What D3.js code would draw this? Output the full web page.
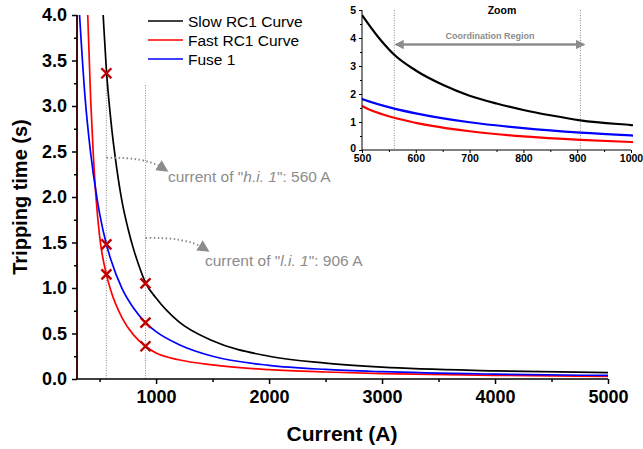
<!DOCTYPE html>
<html>
<head>
<meta charset="utf-8">
<script src="https://cdn.jsdelivr.net/npm/d3@7"></script>
<style>
  body { margin: 0; background: #fff; }
  svg { font-family: Arial, "Liberation Sans", sans-serif; }
  .axis path, .axis line { stroke: #000; stroke-width: 1.5; }
  .axis text { font-weight: bold; fill: #000; }
</style>
</head>
<body>
<script>
(function(){

    //curve data (current in A, tripping time in s)
    var slowCurrent = [500, 535, 560, 600, 650, 700, 750, 800, 850, 906, 1000, 1200, 1500, 2000, 2500, 3000, 4000, 5000];
    var slowTime    = [4.82, 3.92, 3.4, 2.84, 2.33, 1.94, 1.66, 1.43, 1.24, 1.06, 0.89, 0.63, 0.42, 0.25, 0.175, 0.13, 0.09, 0.07];

    var fastCurrent = [395, 421, 445, 468, 500, 560, 600, 700, 800, 906, 1000, 1200, 1500, 2000, 2500, 3000, 4000, 5000];
    var fastTime    = [4.0, 3.07, 2.45, 2.0, 1.57, 1.15, 0.97, 0.67, 0.485, 0.36, 0.285, 0.212, 0.155, 0.103, 0.077, 0.06, 0.04, 0.028];

    var fuseCurrent = [320, 371, 420, 479, 500, 560, 600, 700, 800, 906, 1000, 1200, 1500, 2000, 2500, 3000, 4000, 5000];
    var fuseTime    = [4.05, 3.1, 2.49, 1.97, 1.82, 1.48, 1.31, 0.99, 0.78, 0.62, 0.52, 0.38, 0.25, 0.15, 0.105, 0.08, 0.053, 0.039];

    var seriesNames = ["Slow RC1 Curve", "Fast RC1 Curve", "Fuse 1"];
    var seriesColors = ["#000000", "#ff0000", "#0000ff"];

    //fast curve vertical asymptote at the left edge
    var fastAsymptote = 300;

    //coordination points
    var markCurrent = [560, 560, 560, 906, 906, 906];
    var markTime    = [3.36, 1.48, 1.15, 1.05, 0.62, 0.36];

    //reference currents and the height of their dotted lines
    var refCurrent = [560, 906];
    var refTop     = [3.34, 3.23];
    var refLabels  = [["h.i. 1", "560 A"], ["l.i. 1", "906 A"]];

    var xTicks = [1000, 2000, 3000, 4000, 5000];
    var xMinor = [500, 1500, 2500, 3500, 4500];
    var yTicks = [0, 0.5, 1, 1.5, 2, 2.5, 3, 3.5, 4];
    var yMinor = [0.25, 0.75, 1.25, 1.75, 2.25, 2.75, 3.25, 3.75];

    var zxTicks = [500, 600, 700, 800, 900, 1000];
    var zxMinor = [550, 650, 750, 850, 950];
    var zyTicks = [0, 1, 2, 3, 4, 5];
    var zyMinor = [0.5, 1.5, 2.5, 3.5, 4.5];

    var width = 643, height = 449;

    var svg = d3.select("body").append("svg")
        .attr("width", width)
        .attr("height", height);

    var defs = svg.append("defs");
    defs.append("marker")
        .attr("id", "grayHead")
        .attr("viewBox", "0 0 10 10")
        .attr("refX", 4).attr("refY", 5)
        .attr("markerWidth", 6).attr("markerHeight", 6)
        .attr("markerUnits", "strokeWidth")
        .attr("orient", "auto")
        .append("path").attr("d", "M0,0L10,5L0,10Z").attr("fill", "#8c8c8c");
    defs.append("marker")
        .attr("id", "zoomHead")
        .attr("viewBox", "0 0 10 10")
        .attr("refX", 8).attr("refY", 5)
        .attr("markerWidth", 3.6).attr("markerHeight", 3.6)
        .attr("markerUnits", "strokeWidth")
        .attr("orient", "auto-start-reverse")
        .append("path").attr("d", "M0,0L10,5L0,10Z").attr("fill", "#8c8c8c");

    //main scales
    var x = d3.scaleLinear().domain([300, 5000]).range([77, 608]);
    var y = d3.scaleLinear().domain([0, 4]).range([379, 15]);

    defs.append("clipPath").attr("id", "mainClip")
        .append("rect")
        .attr("x", x(300) - 3).attr("y", y(4))
        .attr("width", x(5000) - x(300) + 6).attr("height", y(0) - y(4) + 2);

    var series = [
        {cur: slowCurrent, t: slowTime},
        {cur: fastCurrent, t: fastTime},
        {cur: fuseCurrent, t: fuseTime}
    ];

    //reference dotted lines
    svg.selectAll(".refLine")
        .data(refCurrent)
        .enter()
        .append("line")
        .attr("class", "refLine")
        .attr("x1", function(d){ return x(d); })
        .attr("x2", function(d){ return x(d); })
        .attr("y1", function(d, i){ return y(refTop[i]); })
        .attr("y2", y(0))
        .attr("stroke", "#8a8a8a")
        .attr("stroke-width", 1)
        .attr("stroke-dasharray", "1,1.5");

    var plot = svg.append("g").attr("clip-path", "url(#mainClip)");

    //asymptote of the fast curve
    plot.append("line")
        .attr("x1", x(fastAsymptote)).attr("x2", x(fastAsymptote))
        .attr("y1", y(0)).attr("y2", y(4))
        .attr("stroke", seriesColors[1])
        .attr("stroke-width", 1.6);

    var line = d3.line()
        .x(function(d){ return x(d[0]); })
        .y(function(d){ return y(d[1]); })
        .curve(d3.curveMonotoneX);

    series.forEach(function(s, i){
        var pts = s.cur.map(function(c, k){ return [c, s.t[k]]; });
        plot.append("path")
            .datum(pts)
            .attr("fill", "none")
            .attr("stroke", seriesColors[i])
            .attr("stroke-width", 1.7)
            .attr("d", line);
    });

    //axes
    var yAxis = svg.append("g").attr("class", "axis")
        .attr("transform", "translate(" + x(300) + ",0)")
        .call(d3.axisLeft(y).tickValues(yTicks).tickSize(5).tickPadding(5).tickFormat(d3.format(".1f")));
    yAxis.selectAll("text").style("font-size", "18px");
    yAxis.select(".domain").attr("d", "M0," + y(0) + "V" + y(4));
    svg.append("g").attr("class", "axis")
        .attr("transform", "translate(" + x(300) + ",0)")
        .call(d3.axisLeft(y).tickValues(yMinor).tickSize(3).tickFormat(""))
        .select(".domain").remove();

    var xAxis = svg.append("g").attr("class", "axis")
        .attr("transform", "translate(0," + y(0) + ")")
        .call(d3.axisBottom(x).tickValues(xTicks).tickSize(5).tickPadding(6).tickFormat(d3.format("d")));
    xAxis.selectAll("text").style("font-size", "18px");
    xAxis.select(".domain").attr("d", "M" + x(300) + ",0H" + x(5000));
    svg.append("g").attr("class", "axis")
        .attr("transform", "translate(0," + y(0) + ")")
        .call(d3.axisBottom(x).tickValues(xMinor).tickSize(3).tickFormat(""))
        .select(".domain").remove();

    //axis titles
    svg.append("text")
        .attr("transform", "translate(27,197)rotate(-90)")
        .attr("text-anchor", "middle")
        .style("font-size", "20px")
        .style("font-weight", "bold")
        .text("Tripping time (s)");
    svg.append("text")
        .attr("x", 342).attr("y", 441)
        .attr("text-anchor", "middle")
        .style("font-size", "21px")
        .style("font-weight", "bold")
        .text("Current (A)");

    //coordination markers
    svg.selectAll(".mark")
        .data(markCurrent)
        .enter()
        .append("path")
        .attr("class", "mark")
        .attr("d", function(d, i){
            var cx = x(d), cy = y(markTime[i]), r = 5;
            return "M" + (cx - r) + "," + (cy - r) + "L" + (cx + r) + "," + (cy + r) +
                   "M" + (cx - r) + "," + (cy + r) + "L" + (cx + r) + "," + (cy - r);
        })
        .attr("stroke", "#c00000")
        .attr("stroke-width", 2.4)
        .attr("fill", "none");

    //curved dotted arrows with labels
    var arrowStart = [2.43, 1.55];
    var arrowDx = [56, 58];
    var arrowDy = [10, 10];
    var labelX = [168, 205];
    var labelY = [182, 266];
    refCurrent.forEach(function(c, i){
        var x0 = x(c), y0 = y(arrowStart[i]);
        var x1 = x0 + arrowDx[i], y1 = y0 + arrowDy[i];
        svg.append("path")
            .attr("d", "M" + x0 + "," + y0 + "Q" + (x0 + arrowDx[i] * 0.7) + "," + (y0 - 1) + " " + x1 + "," + y1)
            .attr("fill", "none")
            .attr("stroke", "#8c8c8c")
            .attr("stroke-width", 2)
            .attr("stroke-dasharray", "1.5,2.5")
            .attr("marker-end", "url(#grayHead)");
        var t = svg.append("text")
            .attr("x", labelX[i])
            .attr("y", labelY[i])
            .style("font-size", "15.5px")
            .attr("fill", "#8c8c8c");
        t.append("tspan").text("current of \"");
        t.append("tspan").style("font-style", "italic").text(refLabels[i][0]);
        t.append("tspan").text("\": " + refLabels[i][1]);
    });

    //legend
    var legend = svg.append("g").attr("transform", "translate(148,21)");
    seriesNames.forEach(function(name, i){
        legend.append("line")
            .attr("x1", 0).attr("x2", 35)
            .attr("y1", i * 19).attr("y2", i * 19)
            .attr("stroke", seriesColors[i])
            .attr("stroke-width", 1.7);
        legend.append("text")
            .attr("x", 40).attr("y", i * 19 + 5.5)
            .style("font-size", "15.5px")
            .text(name);
    });

    //zoom inset
    var zx = d3.scaleLinear().domain([500, 1000]).range([362, 631]);
    var zy = d3.scaleLinear().domain([0, 5]).range([150, 10]);

    defs.append("clipPath").attr("id", "zoomClip")
        .append("rect")
        .attr("x", zx(500)).attr("y", zy(5) - 2)
        .attr("width", zx(1000) - zx(500) + 2).attr("height", zy(0) - zy(5) + 2);

    svg.selectAll(".zoomRef")
        .data(refCurrent)
        .enter()
        .append("line")
        .attr("class", "zoomRef")
        .attr("x1", function(d){ return zx(d); })
        .attr("x2", function(d){ return zx(d); })
        .attr("y1", zy(5)).attr("y2", zy(0))
        .attr("stroke", "#8a8a8a")
        .attr("stroke-width", 1)
        .attr("stroke-dasharray", "1,1.5");

    var zline = d3.line()
        .x(function(d){ return zx(d[0]); })
        .y(function(d){ return zy(d[1]); })
        .curve(d3.curveMonotoneX);

    var zplot = svg.append("g").attr("clip-path", "url(#zoomClip)");
    [0, 2, 1].forEach(function(i){
        var s = series[i];
        var pts = s.cur.map(function(c, k){ return [c, s.t[k]]; });
        zplot.append("path")
            .datum(pts)
            .attr("fill", "none")
            .attr("stroke", seriesColors[i])
            .attr("stroke-width", 2.2)
            .attr("d", zline);
    });

    var zyAxis = svg.append("g").attr("class", "axis")
        .attr("transform", "translate(" + zx(500) + ",0)")
        .call(d3.axisLeft(zy).tickValues(zyTicks).tickSize(3).tickPadding(3).tickFormat(d3.format("d")));
    zyAxis.selectAll("text").style("font-size", "10.5px");
    zyAxis.select(".domain").attr("d", "M0," + zy(0) + "V" + zy(5));
    zyAxis.selectAll("path, line").style("stroke-width", 1);
    //lift the zero label slightly so it clears the 500 label
    zyAxis.selectAll(".tick text").filter(function(d){ return d === 0; }).attr("dy", "0.1em");
    svg.append("g").attr("class", "axis")
        .attr("transform", "translate(" + zx(500) + ",0)")
        .call(d3.axisLeft(zy).tickValues(zyMinor).tickSize(2).tickFormat(""))
        .call(function(g){ g.select(".domain").remove(); g.selectAll("line").style("stroke-width", 1); });

    var zxAxis = svg.append("g").attr("class", "axis")
        .attr("transform", "translate(0," + zy(0) + ")")
        .call(d3.axisBottom(zx).tickValues(zxTicks).tickSize(3).tickPadding(2).tickFormat(d3.format("d")));
    zxAxis.selectAll("text").style("font-size", "10.5px");
    zxAxis.select(".domain").attr("d", "M" + zx(500) + ",0H" + zx(1000));
    zxAxis.selectAll("path, line").style("stroke-width", 1);
    svg.append("g").attr("class", "axis")
        .attr("transform", "translate(0," + zy(0) + ")")
        .call(d3.axisBottom(zx).tickValues(zxMinor).tickSize(2).tickFormat(""))
        .call(function(g){ g.select(".domain").remove(); g.selectAll("line").style("stroke-width", 1); });

    svg.append("text")
        .attr("x", 502).attr("y", 14)
        .attr("text-anchor", "middle")
        .style("font-size", "10.5px")
        .style("font-weight", "bold")
        .text("Zoom");

    svg.append("text")
        .attr("x", 490).attr("y", 39)
        .attr("text-anchor", "middle")
        .style("font-size", "9px")
        .style("font-weight", "bold")
        .attr("fill", "#8c8c8c")
        .text("Coordination Region");

    svg.append("line")
        .attr("x1", zx(refCurrent[0]) + 2).attr("x2", zx(refCurrent[1]) + 3)
        .attr("y1", 44.5).attr("y2", 44.5)
        .attr("stroke", "#8c8c8c")
        .attr("stroke-width", 2.6)
        .attr("marker-start", "url(#zoomHead)")
        .attr("marker-end", "url(#zoomHead)");

})();
</script>
</body>
</html>
